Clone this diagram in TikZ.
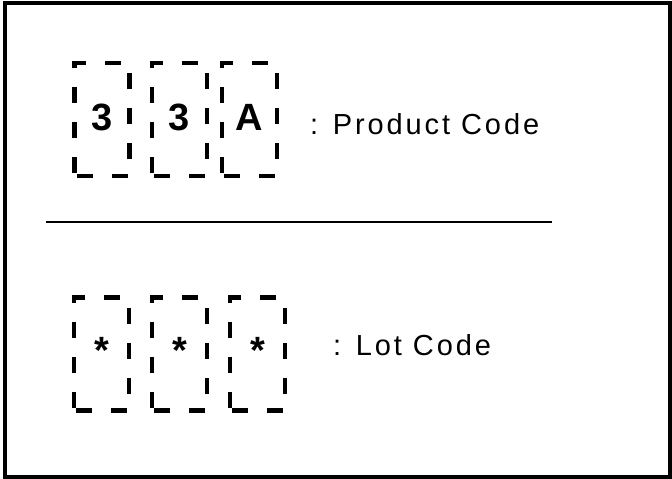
\documentclass[tikz,border=0pt]{standalone}
\usepackage{fontspec}
\setmainfont{Liberation Sans}
\newfontfamily\labelfont[LetterSpace=10]{Liberation Sans}
\usepackage{tikz}
\usetikzlibrary{positioning}

\begin{document}
\begin{tikzpicture}[
  x=1pt, y=-1pt,
  slot/.style={draw, line width=4.5pt, dash pattern=on 16pt off 19pt, dash phase=-2pt, minimum width=55pt, minimum height=113pt, inner sep=0pt},
  glyph/.style={font=\fontsize{38}{40}\selectfont\bfseries, inner sep=0pt},
  caption/.style={font=\labelfont\fontsize{29}{31}\selectfont, anchor=base west, inner sep=0pt}
]
\useasboundingbox (0,0) rectangle (672,479);
\draw[line width=4pt] (5,2.5) rectangle (669.5,476.5);

% product code
\node[slot] (p1) at (102,119.5) {};
\node[slot] (p2) at (179.5,119.5) {};
\node[slot] (p3) at (249.5,119.5) {};
\node[glyph] (p1t) at ([yshift=2pt]p1.center) {3};
\node[glyph] (p2t) at ([yshift=2pt]p2.center) {3};
\node[glyph] (p3t) at ([yshift=2pt]p3.center) {A};
\node[caption] (pc) at (310,134) {: Product Code};

% separator
\coordinate (sepL) at (46,222);
\coordinate (sepR) at (552,222);
\draw[line width=2pt] (sepL) -- (sepR);

% lot code
\node[slot] (l1) at (101.5,354) {};
\node[slot] (l2) at (179.5,354) {};
\node[slot] (l3) at (257.5,354) {};
\node[glyph] (l1t) at ([yshift=4pt]l1.center) {*};
\node[glyph] (l2t) at ([yshift=4pt]l2.center) {*};
\node[glyph] (l3t) at ([yshift=4pt]l3.center) {*};
\node[caption] (lc) at (333,355) {: Lot Code};
\end{tikzpicture}
\end{document}
